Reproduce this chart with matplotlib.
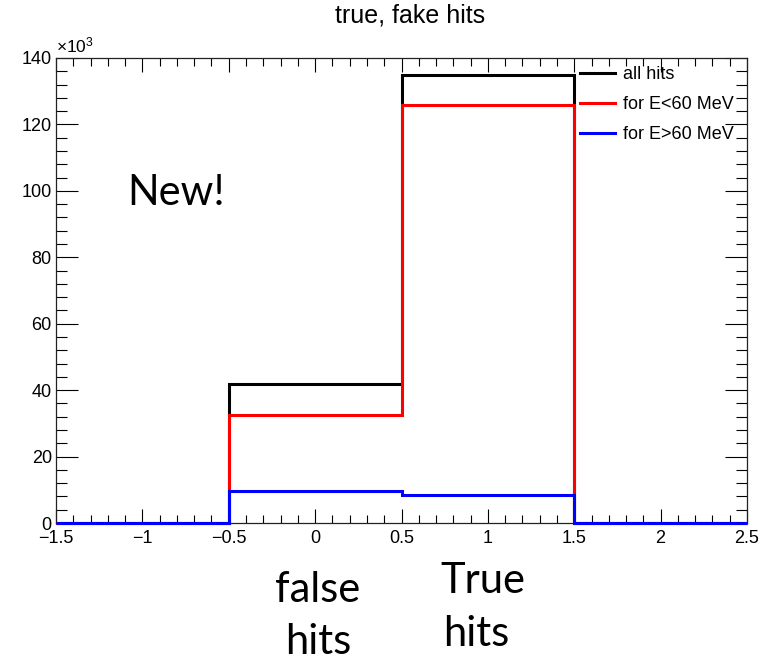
import matplotlib
matplotlib.use("Agg")
import matplotlib.pyplot as plt
from matplotlib.lines import Line2D
from matplotlib.ticker import MultipleLocator, FuncFormatter
import numpy as np

# ---- data ----
bin_edges = [-1.5, -0.5, 0.5, 1.5, 2.5]
all_hits = [0, 41800, 134900, 0]
low_e_hits = [0, 32400, 125900, 0]
high_e_hits = [0, 9600, 8300, 0]
series_labels = ["all hits", "for E<60 MeV", "for E>60 MeV"]
series_colors = ["#000000", "#ff0000", "#0000ff"]
title = "true, fake hits"

plt.rcParams['font.family'] = ['Liberation Sans', 'DejaVu Sans']
plt.rcParams['mathtext.fontset'] = 'custom'
plt.rcParams['mathtext.rm'] = 'Liberation Sans'
plt.rcParams['mathtext.it'] = 'Liberation Sans'

W, H = 767, 658
fig = plt.figure(figsize=(W / 100, H / 100), dpi=100)
ax = fig.add_axes([56 / W, 1 - 523 / H, (747 - 56) / W, (523 - 58) / H])

for vals, col in zip([all_hits, low_e_hits, high_e_hits], series_colors):
    ax.stairs(vals, bin_edges, color=col, linewidth=2.2, zorder=3, clip_on=False)

ax.set_xlim(-1.5, 2.5)
ax.set_ylim(0, 140000)

ax.xaxis.set_major_locator(MultipleLocator(0.5))
ax.xaxis.set_minor_locator(MultipleLocator(0.1))
ax.yaxis.set_major_locator(MultipleLocator(20000))
ax.yaxis.set_minor_locator(MultipleLocator(4000))
ax.yaxis.set_major_formatter(FuncFormatter(lambda v, p: f"{v / 1000:g}"))
ax.xaxis.set_major_formatter(FuncFormatter(lambda v, p: f"{v:g}".replace("-", "\u2212")))

ax.tick_params(axis='y', which='major', direction='in', length=15.5, width=0.8,
               left=True, right=True, labelsize=13, pad=3)
ax.tick_params(axis='y', which='minor', direction='in', length=8, width=0.8,
               left=True, right=True)
ax.tick_params(axis='x', which='major', direction='in', length=10, width=0.8,
               bottom=True, top=True, labelsize=13, pad=5)
ax.tick_params(axis='x', which='minor', direction='in', length=5.5, width=0.8,
               bottom=True, top=True)
for s in ax.spines.values():
    s.set_linewidth(0.9)
    s.set_color('#222222')

ax.text(0.0, 1.005, r"$\times10^{3}$", transform=ax.transAxes, fontsize=12.5,
        ha='left', va='bottom')

fig.text(410 / W, 1 - 15 / H, title, fontsize=18, ha='center', va='center')

handles = [Line2D([], [], color=c, linewidth=2.2) for c in series_colors]
ax.legend(handles, series_labels, loc='upper left', bbox_to_anchor=((580 - 56) / 691, 0.982),
          frameon=False, fontsize=13, handlelength=1.95, handletextpad=0.45,
          borderpad=0, borderaxespad=0, labelspacing=0.72)

ann_font = ['Lato', 'DejaVu Sans']
fig.text(127 / W, 1 - 205 / H, "New!", fontsize=30, family=ann_font, ha='left', va='baseline')
fig.text(275 / W, 1 - 602 / H, "false", fontsize=30, family=ann_font, ha='left', va='baseline')
fig.text(285 / W, 1 - 654 / H, "hits", fontsize=30, family=ann_font, ha='left', va='baseline')
fig.text(440 / W, 1 - 593 / H, "True", fontsize=30, family=ann_font, ha='left', va='baseline')
fig.text(443 / W, 1 - 646 / H, "hits", fontsize=30, family=ann_font, ha='left', va='baseline')

fig.savefig("out.png", dpi=100)
